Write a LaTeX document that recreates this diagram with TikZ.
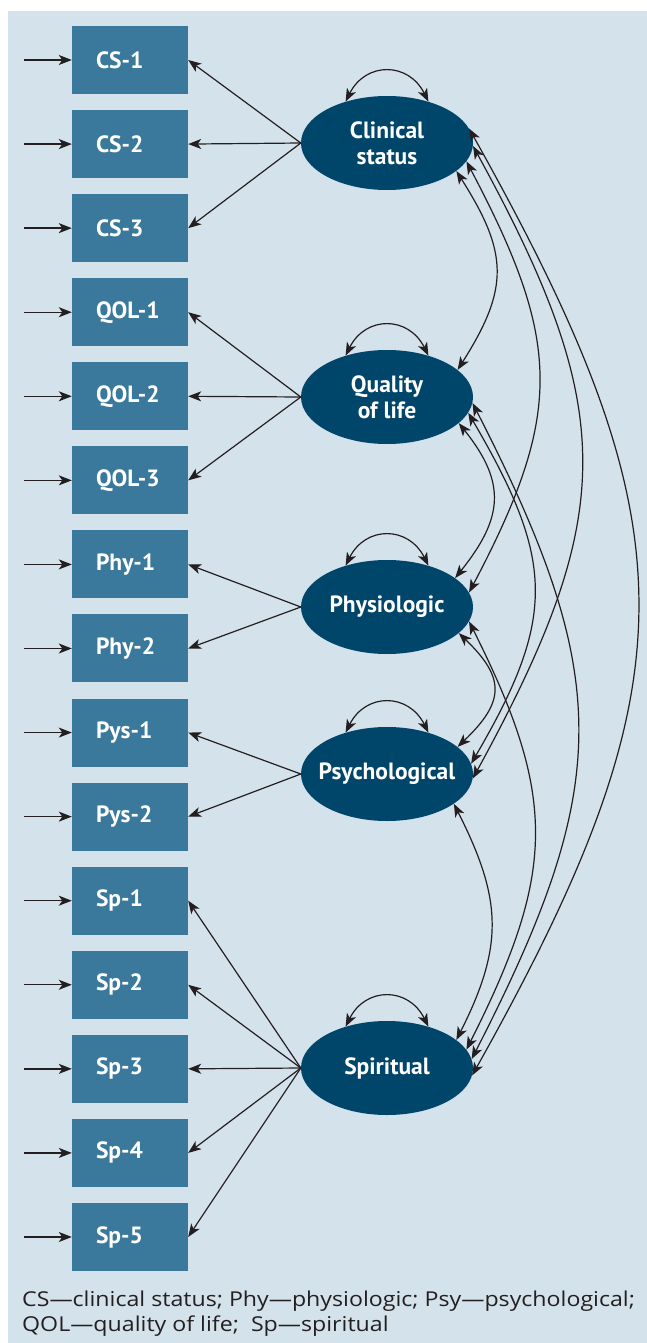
\documentclass[tikz,border=0pt]{standalone}
\usepackage{fontspec}
\setmainfont{PT Sans}
\newfontfamily\capfont[FakeStretch=1.13]{Open Sans}
\usetikzlibrary{arrows.meta,shapes.geometric}
\definecolor{panel}{HTML}{D4E2EC}
\definecolor{boxc}{HTML}{3A799C}
\definecolor{ellc}{HTML}{00466B}
\definecolor{ink}{HTML}{231F20}
\begin{document}
\begin{tikzpicture}[x=1pt,y=-1pt,
  tip/.tip={Stealth[length=13pt,width=10pt,inset=3.5pt]},
  obs/.style={rectangle,fill=boxc,minimum height=68pt,text width=68pt,inner xsep=24pt,inner ysep=0pt,align=left,text=white,font=\fontsize{23.5}{26}\selectfont\bfseries},
  lat/.style={ellipse,fill=ellc,minimum width=172pt,minimum height=94pt,inner sep=0pt},
  lattext/.style={align=center,text=white,inner sep=0pt,font=\fontsize{23.5}{26}\selectfont\bfseries},
  err/.style={draw=ink,line width=1.3pt,-tip},
  load/.style={draw=ink,line width=1.2pt,-tip},
  cov/.style={draw=ink,line width=1.2pt,tip-tip},
  captext/.style={anchor=base west,text=ink,font=\capfont\fontsize{20.5}{25}\selectfont,inner sep=0pt}]
\path[use as bounding box] (0,0) rectangle (647,1343);
\fill[panel] (8,11) rectangle (647,1343);
% observed variables
\foreach \n/\t [count=\i from 0] in {cs1/CS-1,cs2/CS-2,cs3/CS-3,ql1/QOL-1,ql2/QOL-2,ql3/QOL-3,ph1/Phy-1,ph2/Phy-2,py1/Pys-1,py2/Pys-2,sp1/Sp-1,sp2/Sp-2,sp3/Sp-3,sp4/Sp-4,sp5/Sp-5}{
  \node[obs] (\n) at (130,60+84.07*\i) {\t};
  \coordinate (e\n) at (24,60+84.07*\i);
  \draw[err] (e\n) -- (\n.west);
}
% latent variables
\node[lat,label={[lattext]center:Clinical\\status}] (cs) at (387,143) {};
\node[lat,label={[lattext]center:Quality\\of life}] (ql) at (387,397) {};
\node[lat,label={[lattext]center:Physiologic}] (ph) at (387,607) {};
\node[lat,label={[lattext]center:Psychological}] (py) at (387,774) {};
\node[lat,label={[lattext]center:Spiritual}] (sp) at (387,1068) {};
% loadings
\foreach \f/\o in {cs/cs1,cs/cs2,cs/cs3,ql/ql1,ql/ql2,ql/ql3,ph/ph1,ph/ph2,py/py1,py/py2,sp/sp1,sp/sp2,sp/sp3,sp/sp4,sp/sp5}{
  \draw[load] (\f.west) -- (\o.east);
}
% variances
\foreach \f in {cs,ql,ph,py,sp}{
  \draw[cov] (\f.135) .. controls +(20,-40) and +(-20,-40) .. (\f.45);
}
% covariances
\draw[cov] (cs.-22) .. controls +(52,82) and +(52,-82) .. (ql.21);
\draw[cov] (ql.-20) .. controls +(48,60) and +(48,-60) .. (ph.23);
\draw[cov] (ph.-20) .. controls +(47,45) and +(47,-45) .. (py.21);
\draw[cov] (py.-24) .. controls +(48,95) and +(48,-95) .. (sp.22);
\draw[cov] (cs.-13) .. controls +(95,180) and +(95,-180) .. (ph.10);
\draw[cov] (ql.-11) .. controls +(86,147) and +(86,-147) .. (py.7);
\draw[cov] (ph.-10) .. controls +(89,177) and +(89,-177) .. (sp.13);
\draw[cov] (cs.-2) .. controls +(145,265) and +(145,-265) .. (py.-3);
\draw[cov] (ql.-4) .. controls +(141,275) and +(141,-275) .. (sp.6);
\draw[cov] (cs.10) .. controls +(223,398) and +(223,-398) .. (sp.-5);
% caption
\node[captext] (c1) at (22,1306) {CS—clinical status; Phy—physiologic; Psy—psychological;};
\node[captext] (c2) at (22,1331) {QOL—quality of life;\ \ Sp—spiritual};
\end{tikzpicture}
\end{document}
